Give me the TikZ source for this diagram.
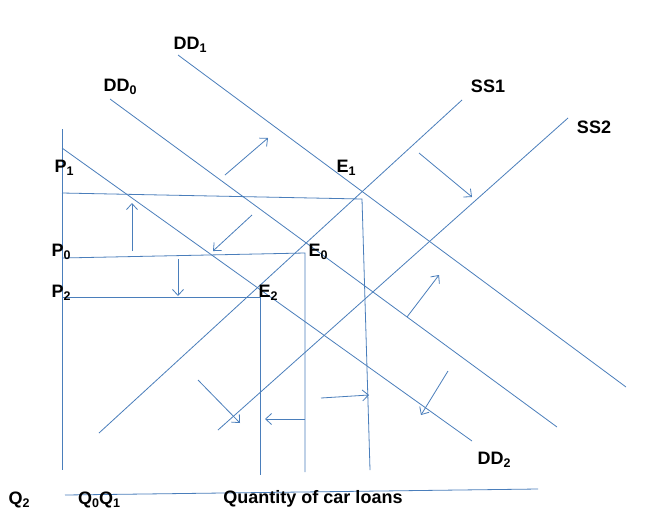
\documentclass[tikz,border=0pt]{standalone}
\usepackage{fontspec}
\setmainfont{Liberation Sans}
\usetikzlibrary{arrows.meta}
\definecolor{lineblue}{RGB}{74,126,187}
\newcommand\lsub[1]{\raisebox{-0.3ex}{\fontsize{12.5}{12.5}\selectfont #1}}
\tikzset{
  curve/.style={draw=lineblue, line width=0.8pt},
  shiftarrow/.style={draw=lineblue, line width=0.8pt, -{Straight Barb[length=6pt,width=11pt]}},
  lab/.style={font=\fontsize{18}{18}\selectfont\bfseries, inner sep=0pt, text=black}
}
\begin{document}
\begin{tikzpicture}[x=1pt,y=-1pt]
\useasboundingbox[fill=white] (0,0) rectangle (663,517);
% axes
\coordinate (yt) at (62,129); \coordinate (yb) at (62,470);
\coordinate (xl) at (65,495); \coordinate (xr) at (538,489);
\draw[curve] (yt) -- (yb);
\draw[curve] (xl) -- (xr);
% demand curves
\coordinate (dd1a) at (178,55); \coordinate (dd1b) at (626,387);
\coordinate (dd0a) at (110,99); \coordinate (dd0b) at (557,427);
\coordinate (dd2a) at (62,148); \coordinate (dd2b) at (472,441);
\draw[curve] (dd1a) -- (dd1b);
\draw[curve] (dd0a) -- (dd0b);
\draw[curve] (dd2a) -- (dd2b);
% supply curves
\coordinate (ss1a) at (99,433); \coordinate (ss1b) at (462,100);
\coordinate (ss2a) at (218,430); \coordinate (ss2b) at (568,118);
\draw[curve] (ss1a) -- (ss1b);
\draw[curve] (ss2a) -- (ss2b);
% price / quantity guide lines
\coordinate (p1) at (62,193); \coordinate (e1) at (362,199); \coordinate (q1) at (370,470);
\coordinate (p0) at (62,258); \coordinate (e0) at (305,253); \coordinate (q0) at (305,472);
\coordinate (p2) at (62,297); \coordinate (e2) at (260,297); \coordinate (q2) at (260,475);
\draw[curve] (p1) -- (e1) -- (q1);
\draw[curve] (p0) -- (e0) -- (q0);
\draw[curve] (p2) -- (e2) -- (q2);
% shift arrows
\coordinate (a1s) at (225,175); \coordinate (a1e) at (268,138);
\coordinate (a2s) at (419,153); \coordinate (a2e) at (472,197);
\coordinate (a3s) at (252,215); \coordinate (a3e) at (213,251);
\coordinate (a4s) at (132,251); \coordinate (a4e) at (132,203);
\coordinate (a5s) at (178,259); \coordinate (a5e) at (178,296);
\coordinate (a6s) at (407,317); \coordinate (a6e) at (439,275);
\coordinate (a7s) at (198,380); \coordinate (a7e) at (240,423);
\coordinate (a8s) at (305,419); \coordinate (a8e) at (265,419);
\coordinate (a9s) at (321,398); \coordinate (a9e) at (369,395);
\coordinate (a10s) at (448,371); \coordinate (a10e) at (421,415);
\foreach \i in {1,...,10} \draw[shiftarrow] (a\i s) -- (a\i e);
% labels
\node[lab] (lDD1) at (190,45) {DD\lsub{1}};
\node[lab] (lDD0) at (120,87) {DD\lsub{0}};
\node[lab] (lSS1) at (488,86) {SS1};
\node[lab] (lSS2) at (594,127) {SS2};
\node[lab] (lDD2) at (494,460) {DD\lsub{2}};
\node[lab] (lP1) at (64,168) {P\lsub{1}};
\node[lab] (lP0) at (61,252) {P\lsub{0}};
\node[lab] (lP2) at (61,293) {P\lsub{2}};
\node[lab] (lE1) at (346,168) {E\lsub{1}};
\node[lab] (lE0) at (318,252) {E\lsub{0}};
\node[lab] (lE2) at (268,293) {E\lsub{2}};
\node[lab] (lQ2) at (19,500) {Q\lsub{2}};
\node[lab] (lQ01) at (99,500) {Q\lsub{0}Q\lsub{1}};
\node[lab] (lQty) at (313,499) {Quantity of car loans};
\end{tikzpicture}
\end{document}
